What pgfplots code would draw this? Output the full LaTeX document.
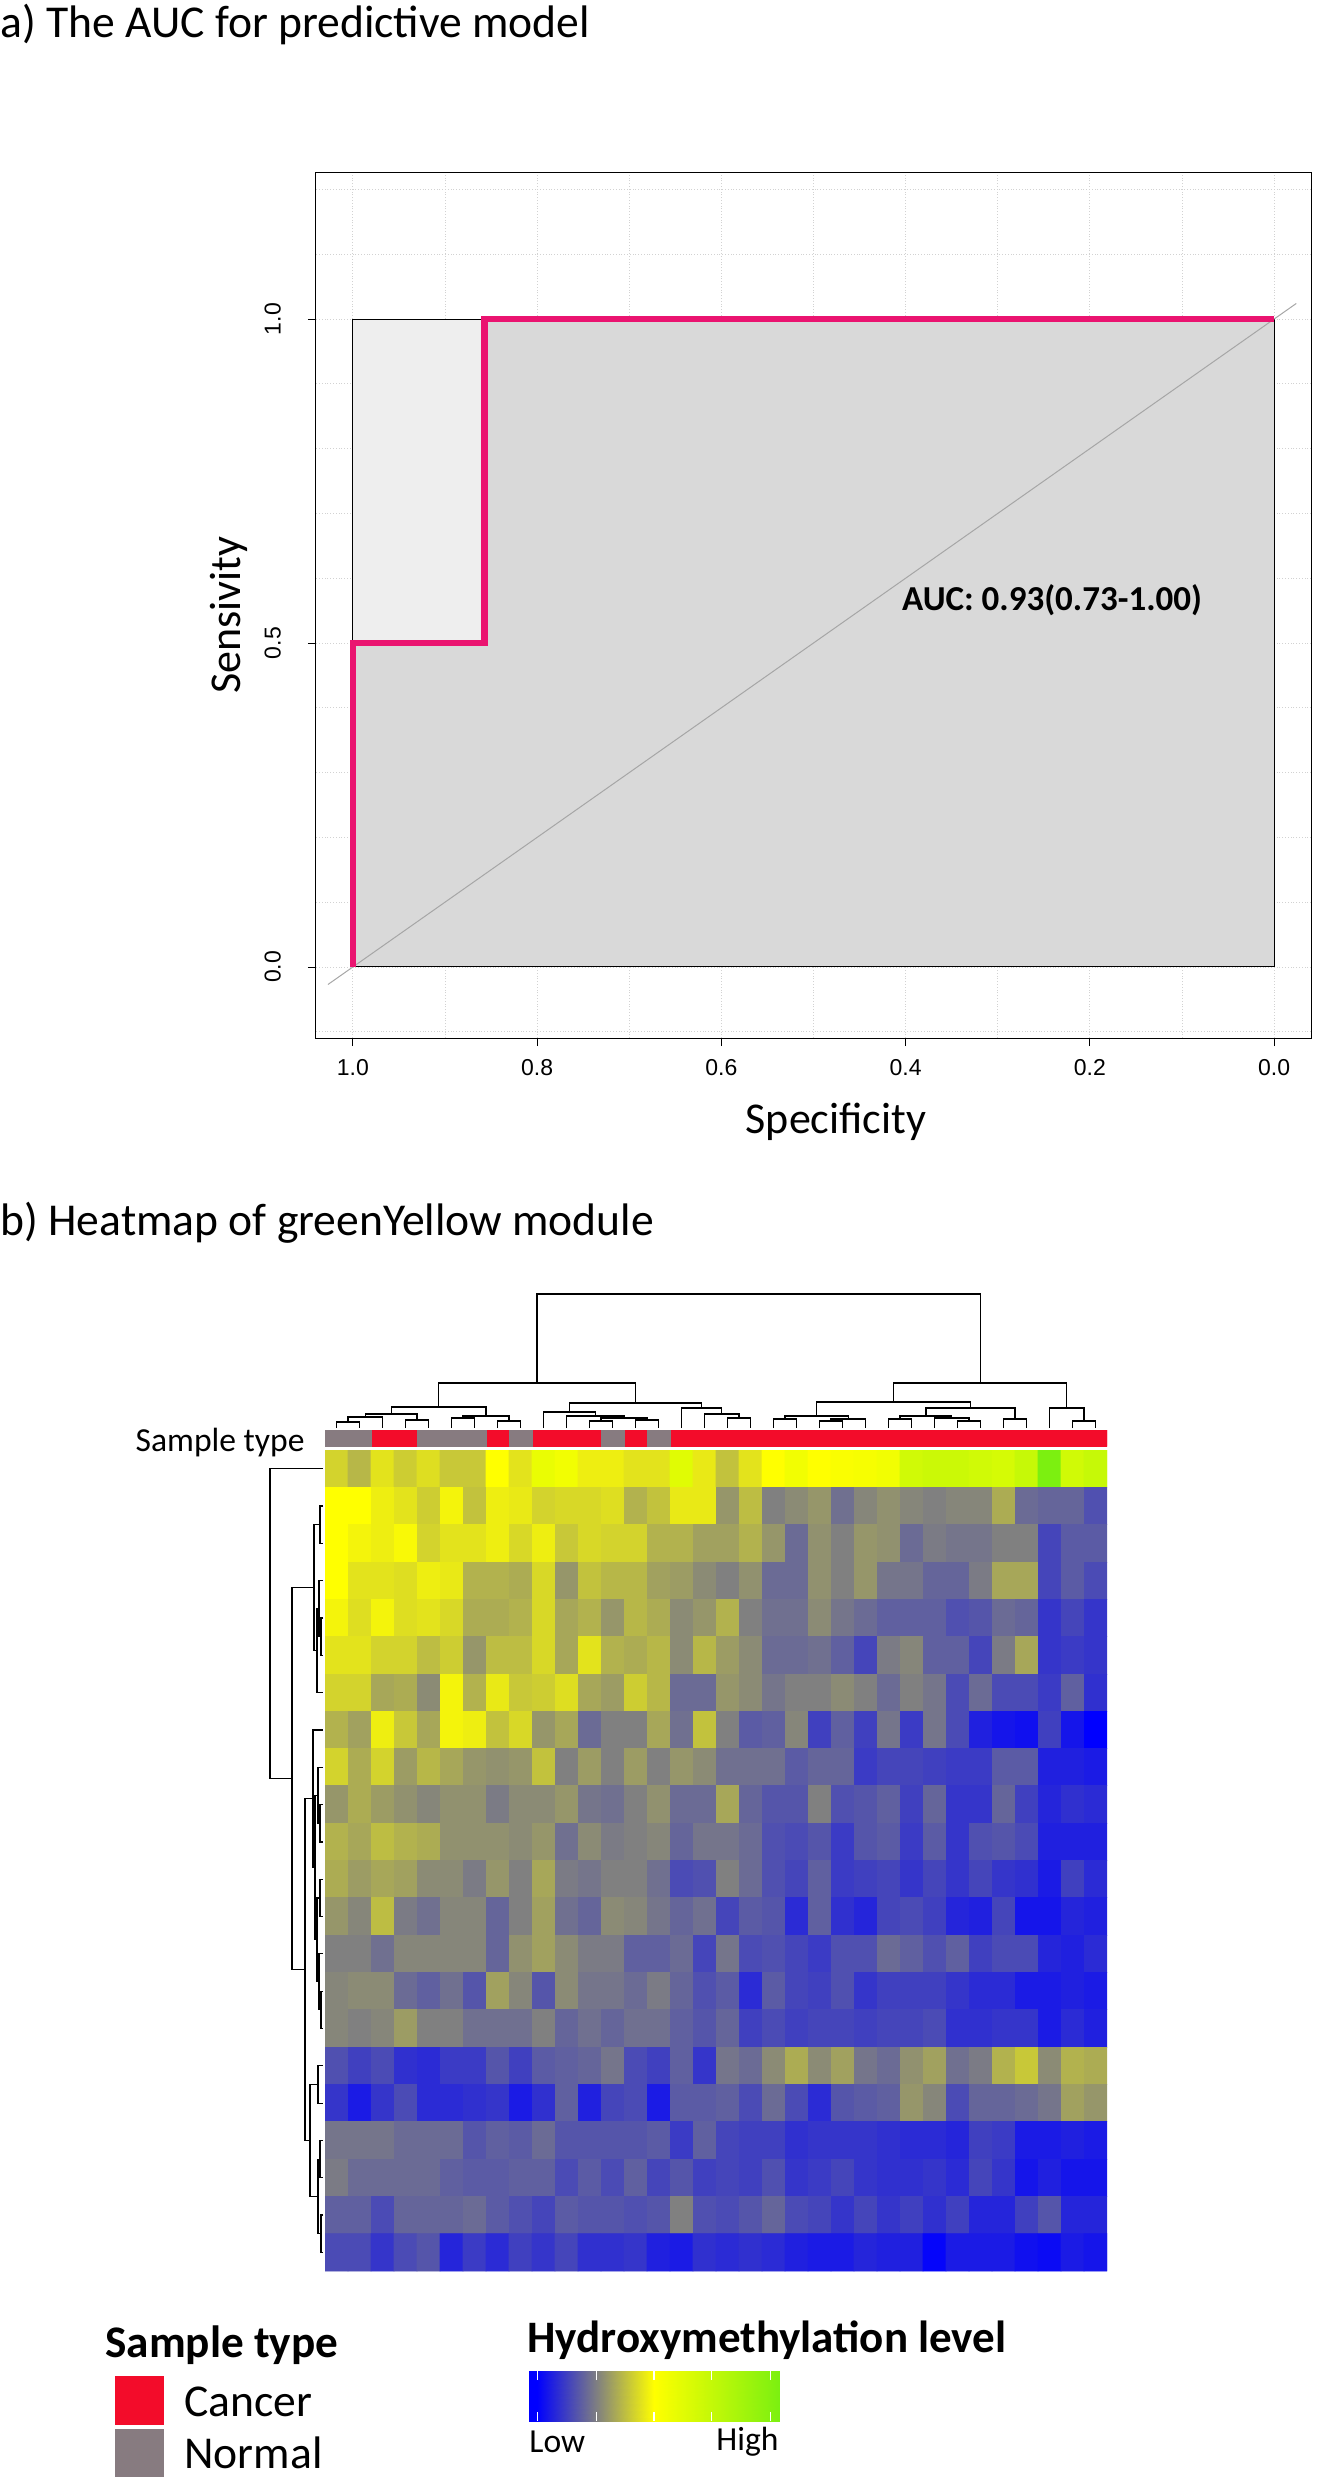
\documentclass[border=0pt]{standalone}
\usepackage{fontspec}
\setmainfont{Carlito}
\newfontfamily\tickfont{Liberation Sans}
\usepackage{pgfplots}
\pgfplotsset{compat=1.18}

\definecolor{rocpink}{RGB}{234,20,112}
\definecolor{roclight}{RGB}{238,238,238}
\definecolor{rocdark}{RGB}{217,217,217}
\definecolor{cancerred}{RGB}{243,12,42}
\definecolor{normalgray}{RGB}{135,123,128}
\newcommand{\fs}[1]{\fontsize{#1}{#1}\selectfont}

\pgfplotsset{
  colormap={hm}{rgb255(0cm)=(0,0,255); rgb255(3cm)=(0,0,255); rgb255(27cm)=(128,128,128); rgb255(50cm)=(255,255,0); rgb255(75cm)=(190,248,8); rgb255(100cm)=(124,240,16)},
  dendro/.style={black, line width=0.6pt, mark=none},
}

\begin{document}
\begin{tikzpicture}
\path[use as bounding box] (0,0) rectangle (659pt,-1240pt);

% ---------------- canvas in pixel units ----------------
\begin{axis}[at={(0pt,0pt)}, anchor=north west, scale only axis,
  width=659pt, height=1240pt, xmin=0, xmax=1318, ymin=0, ymax=2480,
  y dir=reverse, hide axis, clip=false]
\node[anchor=west, inner sep=0pt] at (axis cs:0,24.5) {\fs{22.8}a) The AUC for predictive model};
\node[rotate=90, inner sep=0pt] at (axis cs:229,615) {\fs{22}Sensivity};
\node[inner sep=0pt] at (axis cs:836,1122) {\fs{22}Specificity};
\node[anchor=west, inner sep=0pt] at (axis cs:0,1223) {\fs{22.8}b) Heatmap of greenYellow module};
\node[anchor=east, inner sep=0pt] at (axis cs:305,1442) {\fs{16.8}Sample type};
% legend
\node[anchor=west, inner sep=0pt] at (axis cs:105,2345) {\fs{22.6}\bfseries Sample type};
\fill[cancerred] (axis cs:115,2376) rectangle (axis cs:164,2425);
\fill[normalgray] (axis cs:115,2429) rectangle (axis cs:164,2477);
\node[anchor=west, inner sep=0pt] at (axis cs:184,2402) {\fs{22.8}Cancer};
\node[anchor=west, inner sep=0pt] at (axis cs:184,2453) {\fs{22.8}Normal};
\node[anchor=west, inner sep=0pt] at (axis cs:527,2340) {\fs{22.5}\bfseries Hydroxymethylation level};
\node[anchor=west, inner sep=0pt] at (axis cs:529,2442) {\fs{16.8}Low};
\node[anchor=east, inner sep=0pt] at (axis cs:779,2442) {\fs{16.8}High};
% column dendrogram
\addplot[dendro] coordinates {(336.5,1428) (336.5,1422) (359.5,1422) (359.5,1428)};
\addplot[dendro] coordinates {(348,1422) (348,1417) (382.5,1417) (382.5,1428)};
\addplot[dendro] coordinates {(405.5,1428) (405.5,1420) (428.5,1420) (428.5,1428)};
\addplot[dendro] coordinates {(365.25,1417) (365.25,1414) (417,1414) (417,1420)};
\addplot[dendro] coordinates {(451.5,1428) (451.5,1418) (474.5,1418) (474.5,1428)};
\addplot[dendro] coordinates {(497.5,1428) (497.5,1421) (520.5,1421) (520.5,1428)};
\addplot[dendro] coordinates {(463,1418) (463,1416) (509,1416) (509,1421)};
\addplot[dendro] coordinates {(391.1,1414) (391.1,1407) (486,1407) (486,1416)};
\addplot[dendro] coordinates {(589.5,1428) (589.5,1421) (612.5,1421) (612.5,1428)};
\addplot[dendro] coordinates {(635.5,1428) (635.5,1420) (658.5,1420) (658.5,1428)};
\addplot[dendro] coordinates {(601,1421) (601,1418) (647,1418) (647,1420)};
\addplot[dendro] coordinates {(566.5,1428) (566.5,1416) (624,1416) (624,1418)};
\addplot[dendro] coordinates {(543.5,1428) (543.5,1412) (595.25,1412) (595.25,1416)};
\addplot[dendro] coordinates {(727.5,1428) (727.5,1418) (750.5,1418) (750.5,1428)};
\addplot[dendro] coordinates {(704.5,1428) (704.5,1414) (739,1414) (739,1418)};
\addplot[dendro] coordinates {(681.5,1428) (681.5,1408) (721.75,1408) (721.75,1414)};
\addplot[dendro] coordinates {(569.4,1412) (569.4,1403) (701.6,1403) (701.6,1408)};
\addplot[dendro] coordinates {(438.6,1407) (438.6,1383) (635.5,1383) (635.5,1403)};
\addplot[dendro] coordinates {(773.5,1428) (773.5,1419) (796.5,1419) (796.5,1428)};
\addplot[dendro] coordinates {(819.5,1428) (819.5,1421) (842.5,1421) (842.5,1428)};
\addplot[dendro] coordinates {(831,1421) (831,1419) (865.5,1419) (865.5,1428)};
\addplot[dendro] coordinates {(785,1419) (785,1416) (848.25,1416) (848.25,1419)};
\addplot[dendro] coordinates {(888.5,1428) (888.5,1419) (911.5,1419) (911.5,1428)};
\addplot[dendro] coordinates {(957.5,1428) (957.5,1421) (980.5,1421) (980.5,1428)};
\addplot[dendro] coordinates {(934.5,1428) (934.5,1418) (969,1418) (969,1421)};
\addplot[dendro] coordinates {(900,1419) (900,1416) (951.75,1416) (951.75,1418)};
\addplot[dendro] coordinates {(1003.5,1428) (1003.5,1419) (1026.5,1419) (1026.5,1428)};
\addplot[dendro] coordinates {(925.9,1416) (925.9,1408) (1015,1408) (1015,1419)};
\addplot[dendro] coordinates {(816.6,1416) (816.6,1402) (970.4,1402) (970.4,1408)};
\addplot[dendro] coordinates {(1072.5,1428) (1072.5,1421) (1095.5,1421) (1095.5,1428)};
\addplot[dendro] coordinates {(1049.5,1428) (1049.5,1408) (1084,1408) (1084,1421)};
\addplot[dendro] coordinates {(893.5,1402) (893.5,1383) (1066.75,1383) (1066.75,1408)};
\addplot[dendro] coordinates {(537,1383) (537,1294) (980.1,1294) (980.1,1383)};
% row dendrogram
\addplot[dendro] coordinates {(323,1506.0) (320,1506.0) (320,1543.3) (323,1543.3)};
\addplot[dendro] coordinates {(323,1617.9) (321,1617.9) (321,1655.3) (323,1655.3)};
\addplot[dendro] coordinates {(323,1580.6) (319,1580.6) (319,1636.6) (321,1636.6)};
\addplot[dendro] coordinates {(319,1608.6) (317,1608.6) (317,1692.6) (323,1692.6)};
\addplot[dendro] coordinates {(320,1524.7) (314,1524.7) (314,1650.6) (317,1650.6)};
\addplot[dendro] coordinates {(323,1804.5) (320,1804.5) (320,1841.9) (323,1841.9)};
\addplot[dendro] coordinates {(323,1767.2) (318,1767.2) (318,1823.2) (320,1823.2)};
\addplot[dendro] coordinates {(323,1879.2) (320,1879.2) (320,1916.5) (323,1916.5)};
\addplot[dendro] coordinates {(323,1991.1) (321,1991.1) (321,2028.5) (323,2028.5)};
\addplot[dendro] coordinates {(323,1953.8) (319,1953.8) (319,2009.8) (321,2009.8)};
\addplot[dendro] coordinates {(320,1897.9) (317,1897.9) (317,1981.8) (319,1981.8)};
\addplot[dendro] coordinates {(318,1795.2) (315,1795.2) (315,1939.8) (317,1939.8)};
\addplot[dendro] coordinates {(323,1729.9) (313,1729.9) (313,1867.5) (315,1867.5)};
\addplot[dendro] coordinates {(323,2065.8) (318,2065.8) (318,2103.1) (323,2103.1)};
\addplot[dendro] coordinates {(323,2140.4) (320,2140.4) (320,2177.7) (323,2177.7)};
\addplot[dendro] coordinates {(323,2215.0) (321,2215.0) (321,2252.4) (323,2252.4)};
\addplot[dendro] coordinates {(320,2159.1) (318,2159.1) (318,2233.7) (321,2233.7)};
\addplot[dendro] coordinates {(318,2084.5) (310,2084.5) (310,2196.4) (318,2196.4)};
\addplot[dendro] coordinates {(313,1798.7) (305,1798.7) (305,2140.4) (310,2140.4)};
\addplot[dendro] coordinates {(314,1587.6) (292,1587.6) (292,1969.6) (305,1969.6)};
\addplot[dendro] coordinates {(323,1468.7) (270,1468.7) (270,1778.6) (292,1778.6)};
\end{axis}

% ---------------- ROC curve ----------------
\begin{axis}[at={(158pt,-86pt)}, anchor=north west, scale only axis,
  width=497.5pt, height=433pt,
  xmin=-0.04, xmax=1.04, x dir=reverse, ymin=-0.1096, ymax=1.2269,
  xtick={0,0.2,0.4,0.6,0.8,1}, xticklabels={0.0,0.2,0.4,0.6,0.8,1.0},
  ytick={0,0.5,1}, yticklabels={0.0,0.5,1.0},
  minor xtick={0.1,0.3,0.5,0.7,0.9},
  minor ytick={-0.1,0.1,0.2,0.3,0.4,0.6,0.7,0.8,0.9,1.1,1.2},
  xtick pos=bottom, ytick pos=left,
  grid=both, major grid style={densely dotted, gray!35, line width=0.4pt},
  minor grid style={densely dotted, gray!35, line width=0.4pt},
  tick align=outside, major tick length=4pt, minor tick length=0pt,
  tick style={black, line width=0.4pt},
  axis line style={black, line width=0.5pt},
  xticklabel style={font=\tickfont\fs{11.5}, yshift=-3pt},
  yticklabel style={font=\tickfont\fs{11.5}, xshift=-10pt, rotate=90, anchor=south},
  clip=false]
\addplot[fill=roclight, draw=none] coordinates {(1,0) (1,1) (0,1) (0,0)} -- cycle;
\addplot[fill=rocdark, draw=none] coordinates {(1,0) (1,0.5) (0.857,0.5) (0.857,1) (0,1) (0,0)} -- cycle;
\addplot[black, line width=0.5pt] coordinates {(1,0) (1,1) (0,1) (0,0)} -- cycle;
\addplot[gray!70, line width=0.5pt] coordinates {(1.027,-0.027) (-0.024,1.024)};
\addplot[rocpink, line width=3.2pt, line join=miter] coordinates {(1,0) (1,0.5) (0.857,0.5) (0.857,1) (0,1)};
\node[font=\bfseries\fs{17.5}] at (axis cs:0.241,0.566) {AUC: 0.93(0.73-1.00)};
\end{axis}

% ---------------- sample type bar ----------------
\begin{axis}[at={(162.5pt,-715pt)}, anchor=north west, scale only axis,
  width=391pt, height=8pt, xmin=0.5, xmax=34.5, ymin=0, ymax=1, hide axis, ybar]
\addplot[fill=cancerred, draw=cancerred, line width=0.1pt, bar width=1, bar shift=0pt]
  coordinates {(3,1) (4,1) (8,1) (10,1) (11,1) (12,1) (14,1) (16,1) (17,1) (18,1) (19,1) (20,1) (21,1) (22,1) (23,1) (24,1) (25,1) (26,1) (27,1) (28,1) (29,1) (30,1) (31,1) (32,1) (33,1) (34,1)};
\addplot[fill=normalgray, draw=normalgray, line width=0.1pt, bar width=1, bar shift=0pt]
  coordinates {(1,1) (2,1) (5,1) (6,1) (7,1) (9,1) (13,1) (15,1)};
\end{axis}

% ---------------- heatmap ----------------
\begin{axis}[at={(162.5pt,-725pt)}, anchor=north west, scale only axis,
  width=391pt, height=410.5pt, xmin=0.5, xmax=34.5, ymin=0.5, ymax=22.5,
  y dir=reverse, hide axis, colormap name=hm, point meta min=0, point meta max=100]
\addplot[matrix plot*, mesh/cols=34, mesh/rows=22, point meta=explicit] coordinates {
(1,1)[42] (2,1)[37] (3,1)[45] (4,1)[41] (5,1)[44] (6,1)[40] (7,1)[40] (8,1)[50] (9,1)[45] (10,1)[58] (11,1)[55] (12,1)[47] (13,1)[47] (14,1)[45] (15,1)[45] (16,1)[62] (17,1)[46] (18,1)[39] (19,1)[45] (20,1)[50] (21,1)[55] (22,1)[50] (23,1)[52] (24,1)[53] (25,1)[55] (26,1)[68] (27,1)[70] (28,1)[70] (29,1)[68] (30,1)[66] (31,1)[72] (32,1)[100] (33,1)[68] (34,1)[72]
(1,2)[50] (2,2)[50] (3,2)[47] (4,2)[45] (5,2)[41] (6,2)[48] (7,2)[39] (8,2)[47] (9,2)[46] (10,2)[42] (11,2)[43] (12,2)[43] (13,2)[44] (14,2)[36] (15,2)[39] (16,2)[46] (17,2)[46] (18,2)[31] (19,2)[38] (20,2)[27] (21,2)[29] (22,2)[31] (23,2)[24] (24,2)[28] (25,2)[30] (26,2)[28] (27,2)[27] (28,2)[28] (29,2)[28] (30,2)[35] (31,2)[23] (32,2)[22] (33,2)[22] (34,2)[18]
(1,3)[50] (2,3)[48] (3,3)[47] (4,3)[49] (5,3)[42] (6,3)[45] (7,3)[45] (8,3)[47] (9,3)[43] (10,3)[47] (11,3)[40] (12,3)[43] (13,3)[42] (14,3)[42] (15,3)[36] (16,3)[36] (17,3)[33] (18,3)[33] (19,3)[36] (20,3)[31] (21,3)[23] (22,3)[30] (23,3)[27] (24,3)[31] (25,3)[30] (26,3)[23] (27,3)[26] (28,3)[25] (29,3)[25] (30,3)[27] (31,3)[27] (32,3)[16] (33,3)[20] (34,3)[20]
(1,4)[50] (2,4)[45] (3,4)[45] (4,4)[44] (5,4)[47] (6,4)[46] (7,4)[36] (8,4)[36] (9,4)[35] (10,4)[43] (11,4)[31] (12,4)[39] (13,4)[37] (14,4)[37] (15,4)[33] (16,4)[32] (17,4)[29] (18,4)[27] (19,4)[30] (20,4)[23] (21,4)[23] (22,4)[30] (23,4)[27] (24,4)[31] (25,4)[25] (26,4)[25] (27,4)[22] (28,4)[22] (29,4)[26] (30,4)[34] (31,4)[34] (32,4)[16] (33,4)[20] (34,4)[17]
(1,5)[48] (2,5)[44] (3,5)[48] (4,5)[44] (5,5)[45] (6,5)[43] (7,5)[35] (8,5)[35] (9,5)[36] (10,5)[43] (11,5)[34] (12,5)[36] (13,5)[31] (14,5)[37] (15,5)[35] (16,5)[29] (17,5)[31] (18,5)[36] (19,5)[27] (20,5)[24] (21,5)[24] (22,5)[29] (23,5)[25] (24,5)[23] (25,5)[21] (26,5)[21] (27,5)[21] (28,5)[18] (29,5)[19] (30,5)[23] (31,5)[22] (32,5)[13] (33,5)[16] (34,5)[13]
(1,6)[45] (2,6)[45] (3,6)[42] (4,6)[42] (5,6)[38] (6,6)[41] (7,6)[31] (8,6)[38] (9,6)[38] (10,6)[43] (11,6)[34] (12,6)[45] (13,6)[36] (14,6)[35] (15,6)[37] (16,6)[29] (17,6)[37] (18,6)[32] (19,6)[29] (20,6)[23] (21,6)[23] (22,6)[24] (23,6)[21] (24,6)[16] (25,6)[26] (26,6)[28] (27,6)[21] (28,6)[21] (29,6)[16] (30,6)[26] (31,6)[34] (32,6)[13] (33,6)[14] (34,6)[13]
(1,7)[42] (2,7)[42] (3,7)[34] (4,7)[35] (5,7)[29] (6,7)[48] (7,7)[36] (8,7)[46] (9,7)[40] (10,7)[41] (11,7)[44] (12,7)[34] (13,7)[32] (14,7)[41] (15,7)[37] (16,7)[23] (17,7)[23] (18,7)[31] (19,7)[29] (20,7)[25] (21,7)[27] (22,7)[27] (23,7)[29] (24,7)[27] (25,7)[23] (26,7)[27] (27,7)[25] (28,7)[17] (29,7)[23] (30,7)[17] (31,7)[17] (32,7)[14] (33,7)[21] (34,7)[12]
(1,8)[36] (2,8)[33] (3,8)[47] (4,8)[40] (5,8)[34] (6,8)[48] (7,8)[47] (8,8)[39] (9,8)[43] (10,8)[31] (11,8)[34] (12,8)[23] (13,8)[27] (14,8)[27] (15,8)[34] (16,8)[24] (17,8)[39] (18,8)[27] (19,8)[20] (20,8)[21] (21,8)[28] (22,8)[15] (23,8)[21] (24,8)[15] (25,8)[25] (26,8)[14] (27,8)[25] (28,8)[17] (29,8)[9] (30,8)[7] (31,8)[6] (32,8)[15] (33,8)[7] (34,8)[3]
(1,9)[42] (2,9)[35] (3,9)[42] (4,9)[32] (5,9)[37] (6,9)[34] (7,9)[31] (8,9)[30] (9,9)[31] (10,9)[39] (11,9)[27] (12,9)[32] (13,9)[27] (14,9)[32] (15,9)[27] (16,9)[31] (17,9)[29] (18,9)[24] (19,9)[24] (20,9)[24] (21,9)[20] (22,9)[22] (23,9)[22] (24,9)[14] (25,9)[16] (26,9)[16] (27,9)[15] (28,9)[14] (29,9)[14] (30,9)[20] (31,9)[20] (32,9)[9] (33,9)[9] (34,9)[8]
(1,10)[31] (2,10)[35] (3,10)[32] (4,10)[30] (5,10)[28] (6,10)[30] (7,10)[30] (8,10)[26] (9,10)[29] (10,10)[29] (11,10)[31] (12,10)[25] (13,10)[24] (14,10)[27] (15,10)[30] (16,10)[23] (17,10)[23] (18,10)[34] (19,10)[22] (20,10)[19] (21,10)[19] (22,10)[27] (23,10)[18] (24,10)[19] (25,10)[21] (26,10)[15] (27,10)[22] (28,10)[13] (29,10)[13] (30,10)[22] (31,10)[15] (32,10)[10] (33,10)[12] (34,10)[11]
(1,11)[36] (2,11)[34] (3,11)[38] (4,11)[36] (5,11)[35] (6,11)[30] (7,11)[30] (8,11)[30] (9,11)[29] (10,11)[31] (11,11)[24] (12,11)[29] (13,11)[26] (14,11)[27] (15,11)[28] (16,11)[22] (17,11)[25] (18,11)[25] (19,11)[23] (20,11)[18] (21,11)[17] (22,11)[19] (23,11)[14] (24,11)[19] (25,11)[20] (26,11)[14] (27,11)[20] (28,11)[13] (29,11)[18] (30,11)[19] (31,11)[17] (32,11)[9] (33,11)[9] (34,11)[9]
(1,12)[35] (2,12)[32] (3,12)[34] (4,12)[33] (5,12)[29] (6,12)[29] (7,12)[26] (8,12)[31] (9,12)[27] (10,12)[34] (11,12)[26] (12,12)[25] (13,12)[27] (14,12)[27] (15,12)[24] (16,12)[17] (17,12)[18] (18,12)[27] (19,12)[23] (20,12)[18] (21,12)[16] (22,12)[21] (23,12)[14] (24,12)[15] (25,12)[16] (26,12)[13] (27,12)[16] (28,12)[13] (29,12)[16] (30,12)[13] (31,12)[12] (32,12)[8] (33,12)[15] (34,12)[11]
(1,13)[31] (2,13)[28] (3,13)[38] (4,13)[26] (5,13)[24] (6,13)[28] (7,13)[28] (8,13)[22] (9,13)[27] (10,13)[33] (11,13)[24] (12,13)[22] (13,13)[29] (14,13)[28] (15,13)[25] (16,13)[22] (17,13)[24] (18,13)[16] (19,13)[20] (20,13)[19] (21,13)[11] (22,13)[21] (23,13)[12] (24,13)[10] (25,13)[16] (26,13)[17] (27,13)[15] (28,13)[10] (29,13)[9] (30,13)[16] (31,13)[7] (32,13)[7] (33,13)[10] (34,13)[9]
(1,14)[27] (2,14)[27] (3,14)[24] (4,14)[28] (5,14)[28] (6,14)[28] (7,14)[28] (8,14)[22] (9,14)[30] (10,14)[33] (11,14)[29] (12,14)[26] (13,14)[26] (14,14)[21] (15,14)[21] (16,14)[23] (17,14)[16] (18,14)[25] (19,14)[17] (20,14)[18] (21,14)[16] (22,14)[14] (23,14)[18] (24,14)[18] (25,14)[23] (26,14)[21] (27,14)[18] (28,14)[21] (29,14)[15] (30,14)[17] (31,14)[17] (32,14)[10] (33,14)[9] (34,14)[11]
(1,15)[28] (2,15)[29] (3,15)[29] (4,15)[23] (5,15)[21] (6,15)[24] (7,15)[19] (8,15)[33] (9,15)[28] (10,15)[19] (11,15)[29] (12,15)[25] (13,15)[25] (14,15)[23] (15,15)[26] (16,15)[22] (17,15)[18] (18,15)[20] (19,15)[11] (20,15)[20] (21,15)[16] (22,15)[15] (23,15)[18] (24,15)[13] (25,15)[15] (26,15)[15] (27,15)[15] (28,15)[13] (29,15)[11] (30,15)[11] (31,15)[8] (32,15)[8] (33,15)[9] (34,15)[8]
(1,16)[28] (2,16)[27] (3,16)[28] (4,16)[32] (5,16)[27] (6,16)[27] (7,16)[24] (8,16)[24] (9,16)[24] (10,16)[27] (11,16)[22] (12,16)[24] (13,16)[22] (14,16)[24] (15,16)[24] (16,16)[21] (17,16)[19] (18,16)[22] (19,16)[15] (20,16)[17] (21,16)[15] (22,16)[16] (23,16)[16] (24,16)[15] (25,16)[16] (26,16)[16] (27,16)[17] (28,16)[12] (29,16)[12] (30,16)[13] (31,16)[13] (32,16)[8] (33,16)[11] (34,16)[9]
(1,17)[18] (2,17)[15] (3,17)[17] (4,17)[12] (5,17)[11] (6,17)[14] (7,17)[14] (8,17)[19] (9,17)[15] (10,17)[20] (11,17)[21] (12,17)[22] (13,17)[25] (14,17)[17] (15,17)[15] (16,17)[21] (17,17)[13] (18,17)[25] (19,17)[23] (20,17)[29] (21,17)[35] (22,17)[29] (23,17)[33] (24,17)[25] (25,17)[23] (26,17)[30] (27,17)[33] (28,17)[24] (29,17)[26] (30,17)[36] (31,17)[40] (32,17)[29] (33,17)[36] (34,17)[35]
(1,18)[13] (2,18)[8] (3,18)[13] (4,18)[17] (5,18)[11] (6,18)[11] (7,18)[12] (8,18)[13] (9,18)[8] (10,18)[12] (11,18)[21] (12,18)[9] (13,18)[16] (14,18)[17] (15,18)[8] (16,18)[20] (17,18)[20] (18,18)[21] (19,18)[17] (20,18)[23] (21,18)[17] (22,18)[11] (23,18)[19] (24,18)[20] (25,18)[21] (26,18)[31] (27,18)[28] (28,18)[17] (29,18)[22] (30,18)[22] (31,18)[23] (32,18)[25] (33,18)[33] (34,18)[31]
(1,19)[25] (2,19)[25] (3,19)[25] (4,19)[23] (5,19)[23] (6,19)[23] (7,19)[19] (8,19)[21] (9,19)[20] (10,19)[23] (11,19)[19] (12,19)[19] (13,19)[19] (14,19)[19] (15,19)[20] (16,19)[14] (17,19)[21] (18,19)[16] (19,19)[15] (20,19)[15] (21,19)[12] (22,19)[13] (23,19)[13] (24,19)[13] (25,19)[12] (26,19)[11] (27,19)[11] (28,19)[10] (29,19)[15] (30,19)[14] (31,19)[8] (32,19)[8] (33,19)[9] (34,19)[8]
(1,20)[26] (2,20)[23] (3,20)[23] (4,20)[23] (5,20)[23] (6,20)[21] (7,20)[20] (8,20)[20] (9,20)[21] (10,20)[21] (11,20)[17] (12,20)[20] (13,20)[17] (14,20)[21] (15,20)[16] (16,20)[19] (17,20)[15] (18,20)[16] (19,20)[15] (20,20)[18] (21,20)[13] (22,20)[14] (23,20)[16] (24,20)[13] (25,20)[12] (26,20)[12] (27,20)[13] (28,20)[11] (29,20)[16] (30,20)[13] (31,20)[7] (32,20)[9] (33,20)[7] (34,20)[7]
(1,21)[21] (2,21)[21] (3,21)[17] (4,21)[22] (5,21)[22] (6,21)[22] (7,21)[23] (8,21)[20] (9,21)[18] (10,21)[16] (11,21)[20] (12,21)[19] (13,21)[19] (14,21)[18] (15,21)[19] (16,21)[27] (17,21)[18] (18,21)[17] (19,21)[19] (20,21)[22] (21,21)[17] (22,21)[16] (23,21)[13] (24,21)[16] (25,21)[13] (26,21)[15] (27,21)[12] (28,21)[15] (29,21)[10] (30,21)[10] (31,21)[15] (32,21)[19] (33,21)[10] (34,21)[10]
(1,22)[17] (2,22)[17] (3,22)[13] (4,22)[17] (5,22)[19] (6,22)[10] (7,22)[14] (8,22)[11] (9,22)[15] (10,22)[13] (11,22)[16] (12,22)[12] (13,22)[12] (14,22)[13] (15,22)[9] (16,22)[8] (17,22)[12] (18,22)[11] (19,22)[12] (20,22)[11] (21,22)[9] (22,22)[8] (23,22)[8] (24,22)[10] (25,22)[9] (26,22)[9] (27,22)[4] (28,22)[8] (29,22)[8] (30,22)[8] (31,22)[6] (32,22)[5] (33,22)[8] (34,22)[7]
};
\end{axis}

% ---------------- colour key ----------------
\begin{axis}[at={(264.5pt,-1185.5pt)}, anchor=north west, scale only axis,
  width=125pt, height=25pt, xmin=0, xmax=100, ymin=0, ymax=1, hide axis,
  colormap name=hm, point meta min=0, point meta max=100, clip=false]
\addplot[surf, shader=interp, point meta=x, mesh/cols=6, mesh/rows=2]
  coordinates {(0,0) (3,0) (27,0) (50,0) (75,0) (100,0) (0,1) (3,1) (27,1) (50,1) (75,1) (100,1)};
\addplot[white, line width=0.7pt] coordinates {(3.4,0) (3.4,0.18)};
\addplot[white, line width=0.7pt] coordinates {(3.4,0.82) (3.4,1)};
\addplot[white, line width=0.7pt] coordinates {(27,0) (27,0.18)};
\addplot[white, line width=0.7pt] coordinates {(27,0.82) (27,1)};
\addplot[white, line width=0.7pt] coordinates {(50,0) (50,0.18)};
\addplot[white, line width=0.7pt] coordinates {(50,0.82) (50,1)};
\addplot[white, line width=0.7pt] coordinates {(73,0) (73,0.18)};
\addplot[white, line width=0.7pt] coordinates {(73,0.82) (73,1)};
\addplot[white, line width=0.7pt] coordinates {(96.5,0) (96.5,0.18)};
\addplot[white, line width=0.7pt] coordinates {(96.5,0.82) (96.5,1)};
\end{axis}
\end{tikzpicture}
\end{document}
